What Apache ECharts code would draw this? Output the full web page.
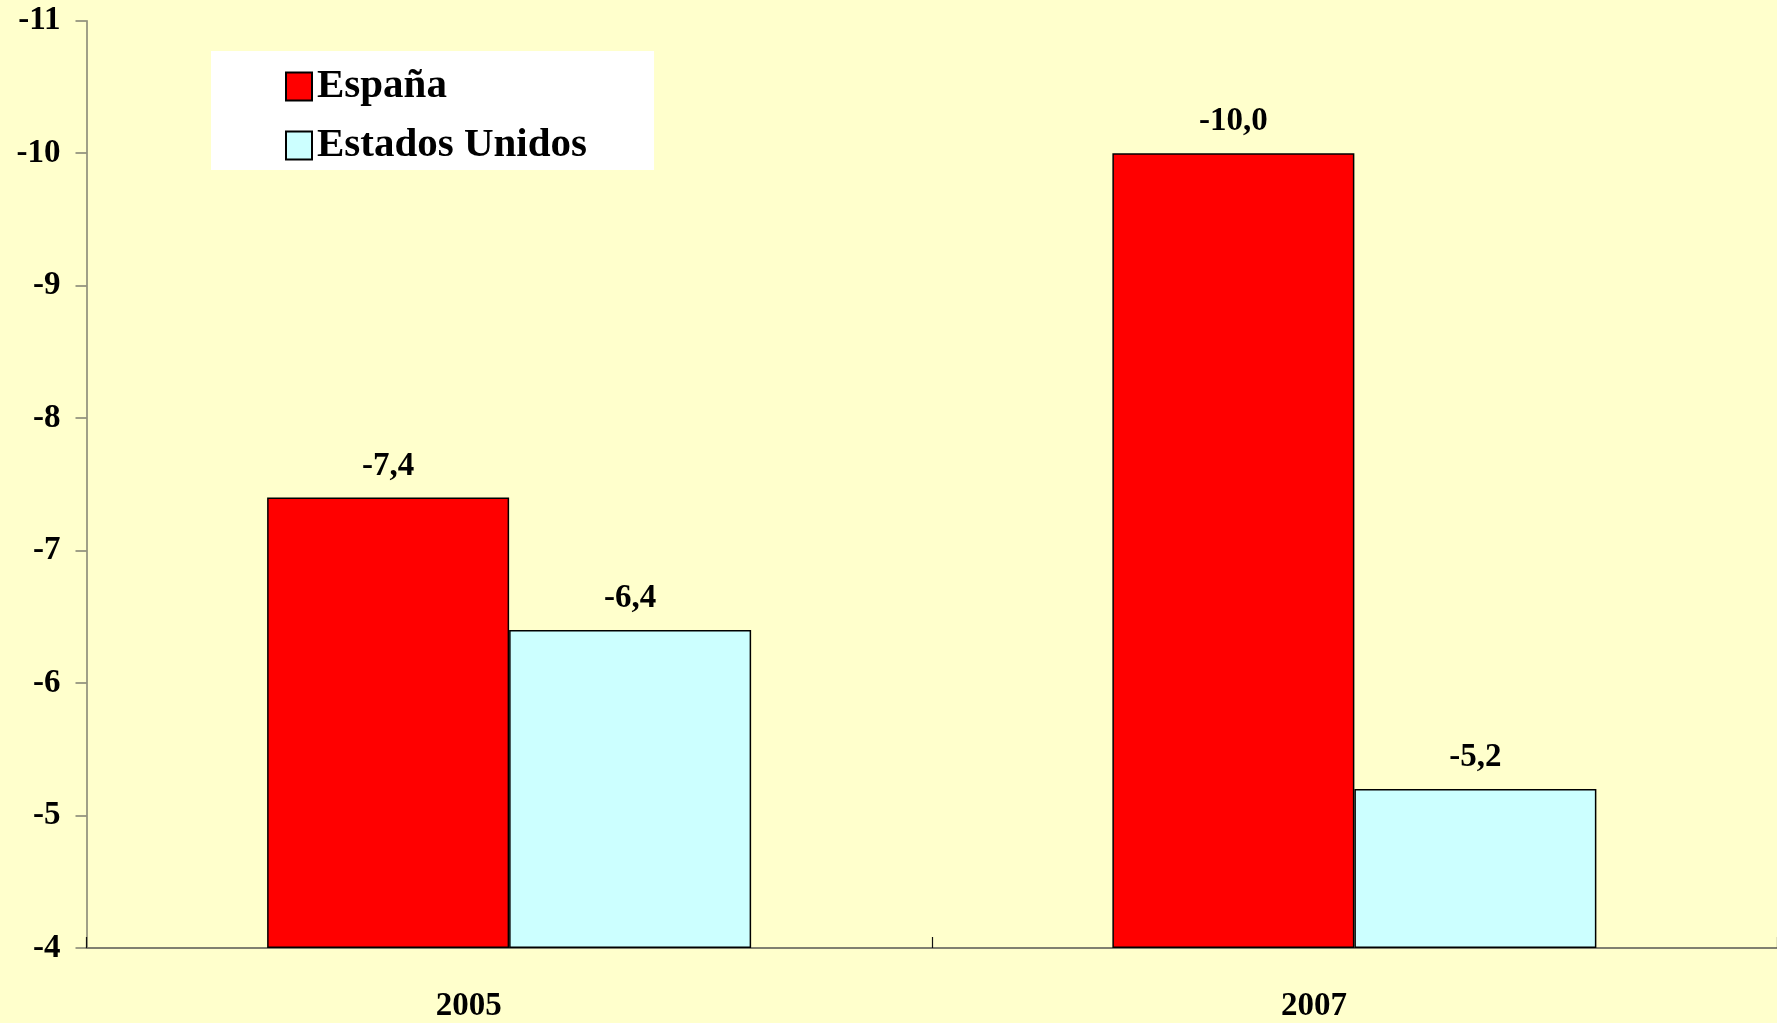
<!DOCTYPE html>
<html>
<head>
<meta charset="utf-8">
<script src="https://cdn.jsdelivr.net/npm/echarts@6/dist/echarts.min.js"></script>
<style>
html,body{margin:0;padding:0;background:#FFFFCC;}
#chart{width:1777px;height:1023px;}
</style>
</head>
<body>
<div id="chart"></div>
<script>
var categories = ['2005', '2007'];
var espana = [-7.4, -10.0];
var estadosUnidos = [-6.4, -5.2];
var seriesNames = ['España', 'Estados Unidos'];

var FONT = '"Liberation Serif", "Times New Roman", serif';
var chart = echarts.init(document.getElementById('chart'));

function fmt(p) { return p.value.toFixed(1).replace('.', ','); }

var labelStyle = {
  show: true, position: 'top', distance: 15, formatter: fmt,
  color: '#000', fontFamily: FONT, fontWeight: 'bold', fontSize: 33
};

chart.setOption({
  backgroundColor: '#FFFFCC',
  animation: false,
  grid: { left: 86.5, top: 20.7, width: 1699.4, height: 929.3, containLabel: false },
  legend: {
    orient: 'vertical', left: 211, top: 51,
    backgroundColor: '#FFFFFF',
    padding: [15, 67, 4, 74],
    itemWidth: 26, itemHeight: 28, itemGap: 18, itemTextGap: 19,
    icon: 'rect',
    textStyle: { fontFamily: FONT, fontWeight: 'bold', fontSize: 41, color: '#000' },
    data: seriesNames
  },
  xAxis: {
    type: 'category', data: categories,
    axisLine: { lineStyle: { color: '#808070', width: 1.8 } },
    axisTick: { show: true, inside: true, length: 11, lineStyle: { color: '#111', width: 1.2 } },
    axisLabel: { color: '#000', fontFamily: FONT, fontWeight: 'bold', fontSize: 33, margin: 42, padding: [0, 81, 0, 0] }
  },
  yAxis: {
    type: 'value', inverse: true, min: -11, max: -4, interval: 1, startValue: -4,
    splitLine: { show: false },
    axisLine: { show: true, lineStyle: { color: '#808070', width: 1.5 } },
    axisTick: { show: true, length: 11, lineStyle: { color: '#808070', width: 1.5 } },
    axisLabel: { color: '#000', fontFamily: FONT, fontWeight: 'bold', fontSize: 33, margin: 26 }
  },
  series: [
    {
      name: seriesNames[0], type: 'bar', data: espana, barWidth: 242, barGap: '0%',
      itemStyle: { color: '#FF0000', borderColor: '#000', borderWidth: 1.5 },
      label: labelStyle
    },
    {
      name: seriesNames[1], type: 'bar', data: estadosUnidos, barWidth: 242, barGap: '0%',
      itemStyle: { color: '#CCFFFF', borderColor: '#000', borderWidth: 1.5 },
      label: labelStyle
    }
  ]
});
</script>
</body>
</html>
